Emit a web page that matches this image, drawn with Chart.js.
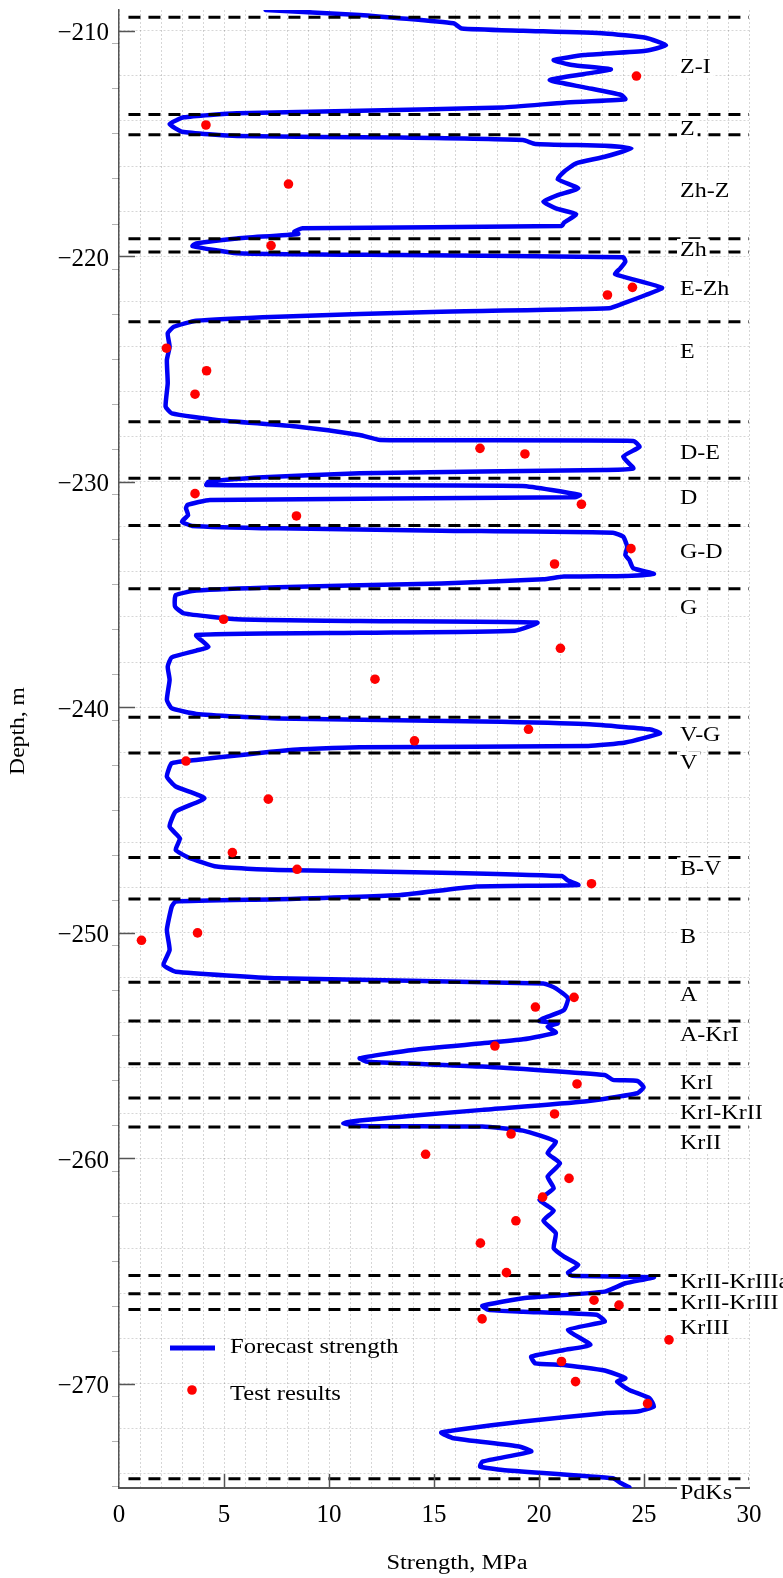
<!DOCTYPE html>
<html>
<head>
<meta charset="utf-8">
<title>Forecast strength vs depth</title>
<script src="https://cdn.jsdelivr.net/npm/chart.js@4.4.0/dist/chart.umd.min.js"></script>
<style>
  html, body { margin: 0; padding: 0; background: #fff; }
  #wrap { width: 783px; height: 1578px; }
</style>
</head>
<body>
<div id="wrap"><canvas id="chart" width="783" height="1578"></canvas></div>
<script>
// Forecast strength profile (depth in m, strength in MPa) top to bottom
const forecastDepth = [
  -209.08, -209.30, -209.67, -209.90, -210.00, -210.12, -210.31, -210.64, -210.89, -211.08,
  -211.30, -211.52, -211.71, -211.92, -212.19, -212.51, -212.85, -213.04, -213.19, -213.40,
  -213.55, -213.66, -213.84, -214.14, -214.48, -214.67, -214.74, -214.85, -215.02, -215.10,
  -215.22, -215.59, -215.88, -216.25, -216.58, -216.99, -217.29, -217.58, -217.88, -218.14,
  -218.51, -218.66, -218.76, -218.91, -219.01, -219.21, -219.43, -219.55, -219.87, -219.95,
  -220.05, -220.24, -220.54, -220.79, -220.98, -221.40, -221.72, -222.06, -222.31, -222.46,
  -222.68, -222.86, -223.13, -223.42, -224.01, -224.60, -225.64, -226.67, -226.97, -227.26,
  -227.56, -227.93, -228.15, -228.19, -228.45, -228.89, -229.41, -229.48, -229.63, -229.81,
  -230.00, -230.15, -230.19, -230.59, -230.69, -230.81, -231.03, -231.18, -231.48, -231.77,
  -231.96, -232.07, -232.17, -232.26, -232.44, -232.88, -233.25, -233.47, -233.84, -234.09,
  -234.18, -234.21, -234.33, -234.51, -234.68, -234.83, -235.03, -235.54, -235.84, -236.10,
  -236.18, -236.25, -236.61, -236.70, -236.80, -237.32, -237.49, -237.79, -238.20, -238.79,
  -239.68, -240.05, -240.30, -240.50, -240.64, -240.75, -240.98, -241.16, -241.57, -241.72,
  -241.78, -241.89, -242.34, -242.49, -243.08, -243.52, -244.04, -244.63, -245.30, -245.82,
  -246.33, -246.66, -247.07, -247.22, -247.34, -247.49, -247.69, -247.89, -247.96, -248.33,
  -248.52, -248.62, -248.85, -249.88, -250.77, -251.43, -251.73, -252.02, -252.25, -252.47,
  -252.91, -253.43, -253.80, -253.92, -254.02, -254.17, -254.43, -254.73, -254.91, -255.20,
  -255.57, -255.73, -255.94, -256.31, -256.53, -256.58, -256.86, -257.12, -257.49, -257.86,
  -258.33, -258.45, -258.57, -258.60, -258.78, -259.27, -259.78, -260.23, -260.82, -261.34,
  -261.85, -262.33, -262.77, -263.33, -264.00, -264.37, -264.74, -265.08, -265.22, -265.28,
  -265.55, -265.92, -266.21, -266.55, -266.73, -266.81, -266.95, -267.25, -267.62, -268.28,
  -268.51, -268.80, -269.10, -269.17, -269.42, -269.76, -269.91, -270.28, -270.65, -271.02,
  -271.24, -271.31, -271.68, -272.17, -272.42, -272.79, -273.01, -273.46, -273.68, -273.83,
  -274.20, -274.42, -274.60
];
const forecastStrength = [
   6.98, 11.46, 15.93, 16.32, 19.24, 23.13, 25.08, 26.05, 25.08, 22.16,
  20.70, 21.58, 23.42, 22.16, 20.51, 22.16, 23.91, 24.11, 21.19, 18.27,
  11.46,  5.62,  3.09,  2.41,  3.00,  5.62, 13.40, 19.24, 19.82, 23.13,
  24.40, 23.13, 21.77, 21.19, 20.89, 21.87, 20.89, 20.21, 20.80, 21.77,
  21.19, 21.09,  8.74,  8.35,  8.54,  5.62,  3.68,  3.50,  5.62, 13.40,
  24.01, 24.11, 23.87, 23.62, 24.30, 25.86, 25.08, 24.11, 23.33, 15.35,
   7.57,  3.68,  2.61,  2.32,  2.41,  2.28,  2.32,  2.22,  2.51,  4.65,
   8.54, 11.46, 12.43, 24.49, 24.79, 24.01, 24.49, 23.13, 11.46,  6.60,
   4.26,  4.16, 19.21, 21.95, 21.71,  4.33,  3.26,  3.19,  3.29,  3.00,
   3.48,  7.57, 15.35, 23.52, 24.01, 24.20, 24.11, 24.30, 24.49, 25.47,
  24.11, 21.19, 20.21, 15.35,  7.57,  3.68,  2.70,  2.67,  3.09,  5.62,
  11.46, 19.92, 18.85, 11.46,  3.68,  4.26,  3.68,  2.51,  2.32,  2.41,
   2.28,  2.51,  3.68,  7.57, 17.30, 22.16, 25.27, 25.76, 24.11, 22.35,
  11.46,  8.30,  3.68,  2.51,  2.28,  2.70,  4.07,  2.70,  2.41,  2.90,
   2.70,  3.29,  4.65,  7.57, 15.35, 21.09, 21.38, 21.87, 16.91, 13.40,
   7.57,  2.70,  2.51,  2.28,  2.41,  2.12,  2.70,  7.57, 20.21, 20.80,
  21.38, 21.19, 20.21, 20.02, 20.89, 20.41, 20.80, 19.24, 17.30, 13.99,
  11.46, 11.85, 17.30, 23.13, 23.52, 24.69, 24.98, 24.69, 22.16, 17.30,
  11.46, 10.68, 11.46, 17.30, 19.24, 20.80, 20.41, 21.00, 20.41, 20.70,
  20.02, 20.70, 20.21, 20.80, 20.70, 21.19, 21.87, 21.38, 21.58, 25.47,
  24.11, 23.13, 19.24, 17.30, 17.59, 19.24, 22.74, 23.13, 21.38, 22.45,
  21.19, 19.63, 19.82, 21.19, 23.13, 24.11, 23.72, 24.30, 25.27, 25.47,
  24.69, 23.13, 19.24, 15.35, 15.93, 19.05, 19.63, 17.30, 17.20, 18.27,
  23.52, 23.91, 24.30
];

// Laboratory test results
const testDepth = [
  -212.01, -214.18, -216.80, -219.53, -221.38, -221.72, -224.08, -225.08, -226.12, -228.52,
  -228.77, -230.53, -231.00, -231.52, -232.97, -233.65, -236.10, -237.39, -238.76, -240.98,
  -241.49, -242.39, -244.08, -246.45, -247.19, -247.83, -250.01, -250.34, -252.87, -253.30,
  -255.03, -256.71, -258.04, -258.93, -259.83, -260.90, -261.73, -262.78, -263.77, -265.08,
  -266.30, -266.52, -267.13, -268.06, -269.02, -269.91, -270.89
];
const testStrength = [
  24.64,  4.14,  8.07,  7.24, 24.45, 23.26,  2.26,  4.17,  3.62, 17.19,
  19.33,  3.62, 22.02,  8.45, 24.38, 20.74,  4.98, 21.02, 12.19, 19.50,
  14.07,  3.19,  7.11,  5.40,  8.48, 22.50,  3.74,  1.07, 21.67, 19.83,
  17.90, 21.81, 20.74, 18.67, 14.60, 21.43, 20.17, 18.90, 17.21, 18.45,
  22.62, 23.81, 17.29, 26.19, 21.07, 21.74, 25.17
];

// Layer boundaries (dashed lines) and layer names
const boundaryDepth = [
  -209.40, -213.71, -214.61, -219.22, -219.81, -222.91, -227.34, -229.85, -231.94, -234.75,
  -240.45, -242.03, -246.67, -248.51, -252.20, -253.92, -255.81, -257.33, -258.62, -265.21,
  -266.01, -266.71, -274.22
];
const layerNames = [
  'Z-I', 'Z', 'Zh-Z', 'Zh', 'E-Zh', 'E', 'D-E', 'D', 'G-D', 'G', 'V-G', 'V',
  'B-V', 'B', 'A', 'A-KrI', 'KrI', 'KrI-KrII', 'KrII', 'KrII-KrIIIa', 'KrII-KrIII', 'KrIII', 'PdKs'
];
const layerDepth = [
  -211.61, -214.34, -217.10, -219.72, -221.44, -224.25, -228.71, -230.69, -233.12, -235.61,
  -241.22, -242.45, -247.15, -250.20, -252.77, -254.55, -256.67, -257.99, -259.31, -265.50,
  -266.40, -267.51, -274.83
];

// Axis ticks
const strengthTicks = [0, 5, 10, 15, 20, 25, 30];
const depthTicks = [-210, -220, -230, -240, -250, -260, -270];
const depthMin = -274.63;
const depthMax = -209.08;

const BLUE = '#0000f5';
const RED = '#ff0000';
const AXIS = '#555555';
const GRID = 'rgba(0, 0, 0, 0.16)';
const SERIF = '"Liberation Serif", "Times New Roman", serif';

// Draw text stretched horizontally, like the labels in the original figure
function drawStretched(ctx, text, x, y, size, sx, align) {
  ctx.save();
  ctx.translate(x, y);
  ctx.scale(sx, 1);
  ctx.font = size + 'px ' + SERIF;
  ctx.textAlign = align || 'left';
  ctx.textBaseline = 'middle';
  ctx.fillStyle = '#000';
  ctx.fillText(text, 0, 0);
  ctx.restore();
}

const decorPlugin = {
  id: 'decor',
  afterDraw(chart) {
    const ctx = chart.ctx;
    const xs = chart.scales.x;
    const ys = chart.scales.y;
    const area = chart.chartArea;

    ctx.save();
    // major ticks pointing inwards
    ctx.strokeStyle = AXIS;
    ctx.lineWidth = 1.5;
    depthTicks.forEach(v => {
      const py = Math.round(ys.getPixelForValue(v)) + 0.5;
      ctx.beginPath();
      ctx.moveTo(area.left, py);
      ctx.lineTo(area.left + 16, py);
      ctx.stroke();
    });
    strengthTicks.slice(1, -1).forEach(v => {
      const px = Math.round(xs.getPixelForValue(v)) + 0.5;
      ctx.beginPath();
      ctx.moveTo(px, area.bottom);
      ctx.lineTo(px, area.bottom - 14);
      ctx.stroke();
    });
    // small outer ticks on the depth axis
    ctx.strokeStyle = 'rgba(0,0,0,0.3)';
    ctx.lineWidth = 1;
    for (let v = depthMax - 1.47; v > depthMin; v -= 2) {
      const py = Math.round(ys.getPixelForValue(v)) + 0.5;
      ctx.beginPath();
      ctx.moveTo(area.left - 7, py);
      ctx.lineTo(area.left, py);
      ctx.stroke();
    }
    ctx.restore();

    // layer names with white boxes
    const size = 20, sx = 1.2;
    ctx.save();
    ctx.font = size + 'px ' + SERIF;
    layerNames.forEach((name, i) => {
      const py = ys.getPixelForValue(layerDepth[i]);
      const w = ctx.measureText(name).width * sx;
      ctx.fillStyle = '#fff';
      ctx.fillRect(677, py - 11, w + 6, 22);
      drawStretched(ctx, name, 680, py + 1, size, sx);
    });
    ctx.restore();

    // legend
    ctx.save();
    ctx.strokeStyle = BLUE;
    ctx.lineWidth = 5;
    ctx.beginPath();
    ctx.moveTo(170, 1348);
    ctx.lineTo(215, 1348);
    ctx.stroke();
    ctx.fillStyle = RED;
    ctx.beginPath();
    ctx.arc(192, 1390, 4.8, 0, Math.PI * 2);
    ctx.fill();
    ctx.restore();
    drawStretched(ctx, 'Forecast strength', 230, 1347, 21, 1.17);
    drawStretched(ctx, 'Test results', 230, 1394, 21, 1.17);

    // axis titles
    drawStretched(ctx, 'Strength, MPa', 457, 1564, 20, 1.22, 'center');
    ctx.save();
    ctx.translate(19, 731);
    ctx.rotate(-Math.PI / 2);
    drawStretched(ctx, 'Depth, m', 0, 0, 20, 1.18, 'center');
    ctx.restore();
  }
};

const datasets = [];
datasets.push({
  label: 'Test results',
  data: testDepth.map((d, i) => ({ x: testStrength[i], y: d })),
  backgroundColor: RED,
  borderColor: RED,
  pointRadius: 4.8,
  pointBorderWidth: 0,
  showLine: false
});
boundaryDepth.forEach(d => {
  datasets.push({
    label: 'boundary',
    data: [{ x: 0.45, y: d }, { x: 30, y: d }],
    borderColor: '#000',
    borderWidth: 3,
    borderDash: [12, 8],
    pointRadius: 0,
    showLine: true,
    fill: false
  });
});
datasets.push({
  label: 'Forecast strength',
  data: forecastDepth.map((d, i) => ({ x: forecastStrength[i], y: d })),
  borderColor: BLUE,
  borderWidth: 4.5,
  pointRadius: 0,
  showLine: true,
  fill: false,
  tension: 0.15,
  borderJoinStyle: 'round',
  borderCapStyle: 'round'
});

new Chart(document.getElementById('chart'), {
  type: 'scatter',
  data: { datasets: datasets },
  options: {
    responsive: false,
    animation: false,
    devicePixelRatio: 1,
    layout: { padding: { top: 10, right: 34, left: 0, bottom: 0 } },
    plugins: {
      legend: { display: false },
      tooltip: { enabled: false }
    },
    scales: {
      x: {
        type: 'linear',
        position: 'bottom',
        min: 0,
        max: 30,
        afterBuildTicks: scale => {
          const t = [];
          for (let v = 0; v <= 30; v++) t.push({ value: v });
          scale.ticks = t;
        },
        afterFit: scale => {
          scale.height = 90;
          scale.paddingLeft = 0;
          scale.paddingRight = 0;
        },
        ticks: {
          autoSkip: false,
          maxRotation: 0,
          padding: 12,
          color: '#000',
          font: { family: SERIF, size: 25 },
          callback: v => (strengthTicks.includes(v) ? String(v) : '')
        },
        grid: { color: GRID, lineWidth: 1, drawTicks: false },
        border: { display: true, color: AXIS, width: 2, dash: [2, 2] }
      },
      y: {
        type: 'linear',
        position: 'left',
        min: depthMin,
        max: depthMax,
        afterBuildTicks: scale => {
          const t = [];
          for (let v = -274; v <= -210; v += 2) t.push({ value: v });
          scale.ticks = t;
        },
        afterFit: scale => {
          scale.width = 119;
          scale.paddingTop = 0;
          scale.paddingBottom = 0;
        },
        ticks: {
          autoSkip: false,
          padding: 10,
          labelOffset: 3,
          color: '#000',
          font: { family: SERIF, size: 25 },
          callback: v => (depthTicks.includes(v) ? '\u2212' + Math.abs(v) : '')
        },
        grid: { color: GRID, lineWidth: 1, drawTicks: false },
        border: { display: true, color: AXIS, width: 1.5, dash: [2, 2] }
      }
    }
  },
  plugins: [decorPlugin]
});
</script>
</body>
</html>
